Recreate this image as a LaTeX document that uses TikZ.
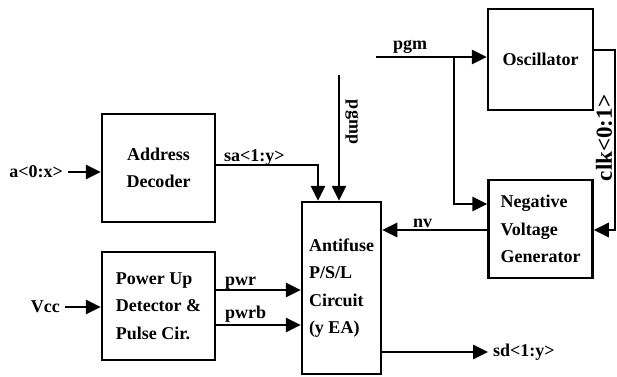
\documentclass[tikz,border=0pt]{standalone}
\usepackage{fontspec}
\setmainfont{Liberation Serif}
\usetikzlibrary{arrows.meta,calc}
\newcommand\lblfont{\bfseries\fontsize{18}{27.5}\selectfont}
\newcommand\clkfont{\bfseries\fontsize{23}{27}\selectfont}
\begin{document}
\begin{tikzpicture}[x=1pt,y=-1pt,
  box/.style={draw,line width=2.5pt,inner sep=0pt,align=left,font=\lblfont},
  wire/.style={line width=2.9pt},
  arr/.style={wire,-{Triangle[length=15pt,width=14pt]}},
  lbl/.style={font=\lblfont,inner sep=0pt}]
\useasboundingbox (0,0) rectangle (617,376);

% blocks
\node[box,align=center,minimum width=113pt,minimum height=108pt] (addr) at (158.5,168) {Address\\Decoder};
\node[box,minimum width=113pt,minimum height=108pt] (pwrbox) at (158.5,306) {Power Up\\Detector \&\\Pulse Cir.};
\node[box,minimum width=79pt,minimum height=172pt] (anti) at (341.5,288) {Antifuse\\P/S/L\\Circuit\\(y EA)};
\node[box,align=center,minimum width=105pt,minimum height=101pt] (osc) at (540.5,59.5) {Oscillator};
\node[box,minimum width=104pt,minimum height=98pt] (nvg) at (540.5,229) {Negative\\Voltage\\Generator};

% inputs
\node[lbl,anchor=east] (alab) at (63,172) {a<0:x>};
\draw[arr] ([xshift=5pt]alab.east) -- (addr.west |- alab.east);
\node[lbl,anchor=east] (vcc) at (60,307) {Vcc};
\draw[arr] ([xshift=5pt]vcc.east) -- (pwrbox.west |- vcc.east);

% sa
\coordinate (sacorner) at (318,165);
\draw[arr] (addr.east |- sacorner) -- (sacorner) -- (anti.north -| sacorner);
\node[lbl,anchor=base west] (salab) at (224,161) {sa<1:y>};

% pgmp
\coordinate (pgmpstart) at (339,75);
\draw[arr] (pgmpstart) -- (anti.north -| pgmpstart);
\node[lbl,rotate=-90] (pgmplab) at (352,122) {pgmp};

% pgm
\coordinate (pgmstart) at (376,57);
\coordinate (pgmbr) at (454,57);
\coordinate (nvin) at (454,204);
\draw[arr] (pgmstart) -- (osc.west |- pgmstart);
\draw[arr] (pgmbr) -- (nvin) -- (nvg.west |- nvin);
\node[lbl,anchor=base west] (pgmlab) at (393,49) {pgm};

% clk
\coordinate (c1) at (615,50);
\coordinate (c2) at (615,230);
\draw[arr] (osc.east |- c1) -- (c1) -- (c2) -- (nvg.east |- c2);
\node[font=\clkfont,inner sep=0pt,rotate=90] (clklab) at (604,138) {clk<0:1>};

% nv
\coordinate (nvy) at (0,230);
\draw[arr] (nvg.west |- nvy) -- (anti.east |- nvy);
\node[lbl,anchor=base west] (nvlab) at (413,227) {nv};

% pwr
\coordinate (pwry) at (0,290);
\coordinate (pwrby) at (0,325);
\draw[arr] (pwrbox.east |- pwry) -- (anti.west |- pwry);
\draw[arr] (pwrbox.east |- pwrby) -- (anti.west |- pwrby);
\node[lbl,anchor=base west] (pwrlab) at (225,285) {pwr};
\node[lbl,anchor=base west] (pwrblab) at (225,318) {pwrb};

% sd
\node[lbl,anchor=west] (sdlab) at (493,352) {sd<1:y>};
\draw[arr] (anti.east |- sdlab.west) -- ([xshift=-5pt]sdlab.west);
\end{tikzpicture}
\end{document}
